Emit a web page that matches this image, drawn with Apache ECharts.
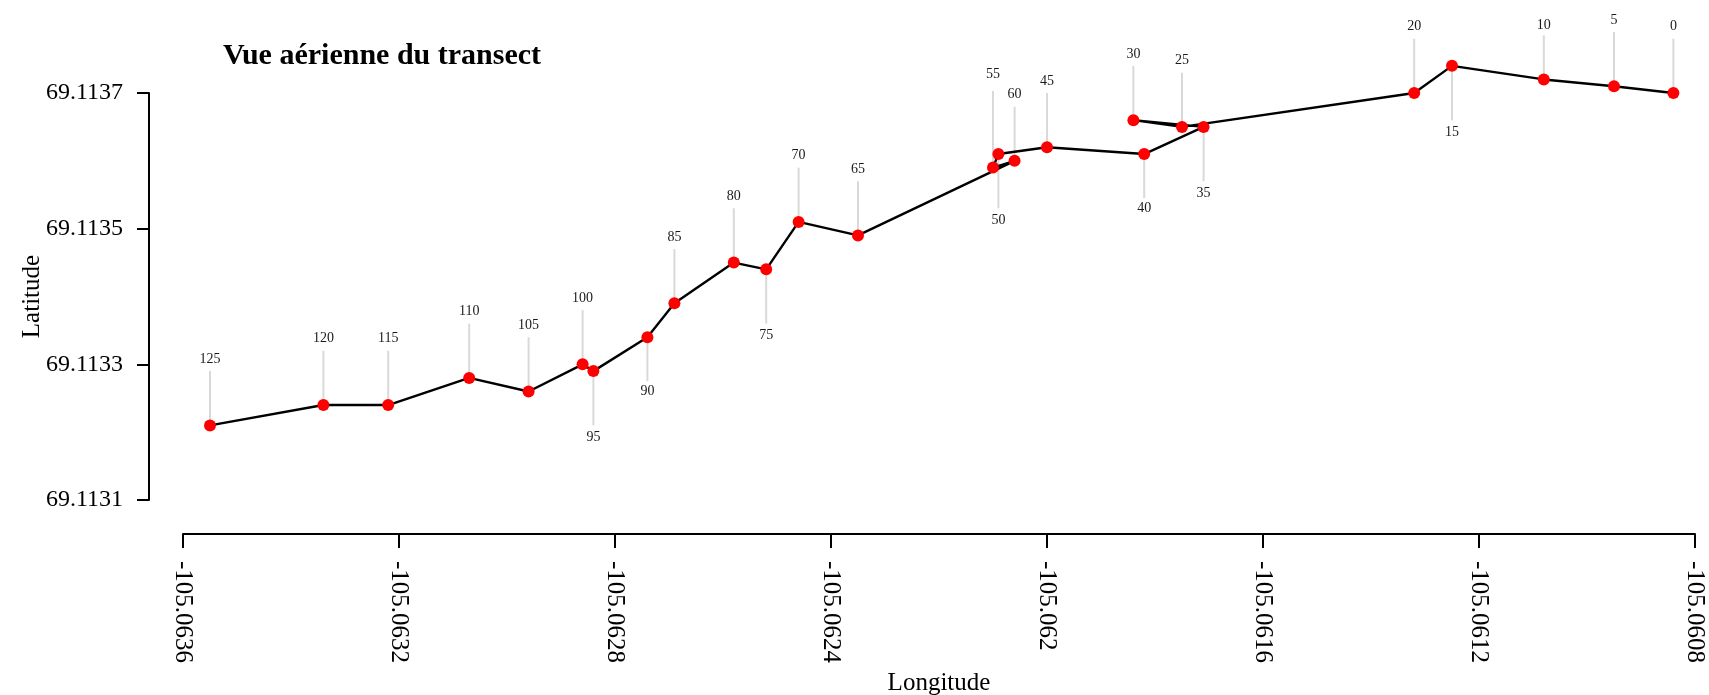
<!DOCTYPE html>
<html>
<head>
<meta charset="utf-8">
<script src="https://cdn.jsdelivr.net/npm/echarts@6/dist/echarts.min.js"></script>
<style>
  html, body { margin: 0; padding: 0; background: #fff; }
  #chart { width: 1709px; height: 695px; }
</style>
</head>
<body>
<div id="chart"></div>
<script>
// Transect stations (distance marks) and their GPS positions
const stations = [0, 5, 10, 15, 20, 25, 30, 35, 40, 45, 50, 55, 60, 65, 70, 75, 80, 85, 90, 95, 100, 105, 110, 115, 120, 125];
const lon = [-105.06084, -105.06095, -105.06108, -105.06125, -105.06132, -105.06175, -105.06184, -105.06171,
             -105.06182, -105.06200, -105.06209, -105.06210, -105.06206, -105.06235, -105.06246, -105.06252,
             -105.06258, -105.06269, -105.06274, -105.06284, -105.06286, -105.06296, -105.06307, -105.06322,
             -105.06334, -105.06355];
const lat = [69.11370, 69.11371, 69.11372, 69.11374, 69.11370, 69.11365, 69.11366, 69.11365,
             69.11361, 69.11362, 69.11361, 69.11359, 69.11360, 69.11349, 69.11351, 69.11344,
             69.11345, 69.11339, 69.11334, 69.11329, 69.11330, 69.11326, 69.11328, 69.11324,
             69.11324, 69.11321];
// Leader length for each station tag, in degrees of latitude (negative = tag below the point)
const tagOffset = [0.00008, 0.00008, 0.000065, -0.00008, 0.00008, 0.00008, 0.00008, -0.00008,
                   -0.000065, 0.00008, -0.00008, 0.000113, 0.00008, 0.00008, 0.00008, -0.00008,
                   0.00008, 0.00008, -0.000065, -0.00008, 0.00008, 0.00008, 0.00008, 0.00008,
                   0.00008, 0.00008];
// Axis tick labels
const xTicks = [-105.0636, -105.0632, -105.0628, -105.0624, -105.0620, -105.0616, -105.0612, -105.0608];
const yTicks = [69.1131, 69.1133, 69.1135, 69.1137];

const serif = '"Liberation Serif", "Times New Roman", serif';
const fmt = v => String(parseFloat(Number(v).toFixed(4)));

const track = stations.map((s, i) => [lon[i], lat[i]]);
const tags = stations.map((s, i) => [lon[i], lat[i], tagOffset[i], s]);

const chart = echarts.init(document.getElementById('chart'), null, { renderer: 'canvas' });
chart.setOption({
  animation: false,
  backgroundColor: '#fff',
  title: {
    text: 'Vue aérienne du transect',
    left: 218,
    top: 36,
    textStyle: { fontFamily: serif, fontSize: 30, fontWeight: 'bold', color: '#000' }
  },
  grid: { left: 183, right: 14, top: 93, bottom: 195, outerBoundsMode: 'none', containLabel: false },
  xAxis: {
    type: 'value',
    min: xTicks[0],
    max: xTicks[xTicks.length - 1],
    offset: 34,
    axisLine: { show: true, onZero: false, lineStyle: { color: '#000', width: 2 } },
    axisTick: { show: true, length: 14, customValues: xTicks, lineStyle: { color: '#000', width: 2 } },
    axisLabel: {
      customValues: xTicks, rotate: -90, margin: 27, formatter: fmt,
      fontFamily: serif, fontSize: 25, color: '#000'
    },
    splitLine: { show: false },
    name: 'Longitude',
    nameLocation: 'middle',
    nameGap: 135,
    nameTextStyle: { fontFamily: serif, fontSize: 25, color: '#000' }
  },
  yAxis: {
    type: 'value',
    min: yTicks[0],
    max: yTicks[yTicks.length - 1],
    offset: 34,
    axisLine: { show: true, onZero: false, lineStyle: { color: '#000', width: 2 } },
    axisTick: { show: true, length: 12, customValues: yTicks, lineStyle: { color: '#000', width: 2 } },
    axisLabel: {
      customValues: yTicks, margin: 26, formatter: fmt,
      fontFamily: serif, fontSize: 24, color: '#000'
    },
    splitLine: { show: false },
    name: 'Latitude',
    nameLocation: 'middle',
    nameGap: 104,
    nameRotate: 90,
    nameMoveOverlap: false,
    nameTextStyle: { fontFamily: serif, fontSize: 25, color: '#000' }
  },
  series: [
    {
      // grey leaders and station numbers
      type: 'custom',
      z: 1,
      clip: false,
      data: tags,
      renderItem(params, api) {
        const x = api.value(0), y = api.value(1), off = api.value(2);
        const p0 = api.coord([x, y]);
        const p1 = api.coord([x, y + off]);
        const p2 = api.coord([x, y + off * 1.22]);
        return {
          type: 'group',
          children: [
            { type: 'line', shape: { x1: p0[0], y1: p0[1], x2: p1[0], y2: p1[1] },
              style: { stroke: '#d9d9d9', lineWidth: 2 } },
            { type: 'text', x: p2[0], y: p2[1],
              style: { text: String(api.value(3)), fill: '#1a1a1a', font: '14px ' + serif,
                       align: 'center', verticalAlign: 'middle' } }
          ]
        };
      }
    },
    {
      type: 'line',
      z: 3,
      clip: false,
      data: track,
      symbol: 'circle',
      symbolSize: 12,
      showAllSymbol: true,
      itemStyle: { color: '#ff0000' },
      lineStyle: { color: '#000', width: 2.4 }
    }
  ]
});
</script>
</body>
</html>
